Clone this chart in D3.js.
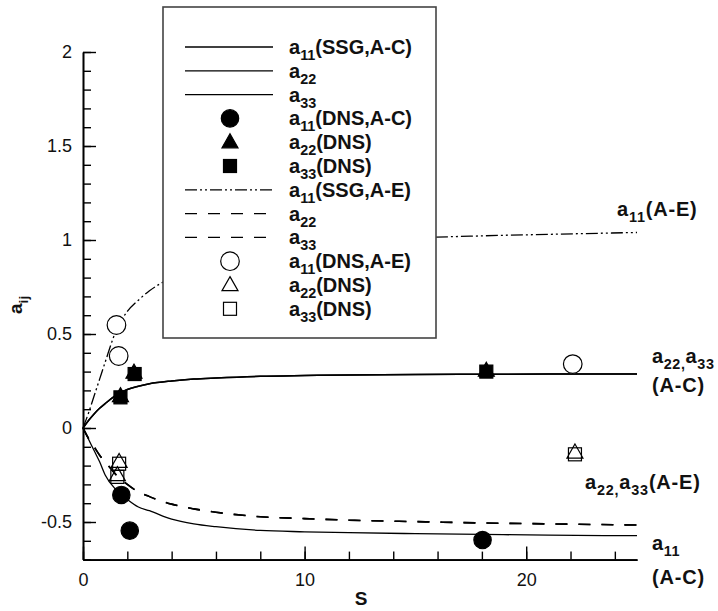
<!DOCTYPE html>
<html>
<head>
<meta charset="utf-8">
<script src="https://cdn.jsdelivr.net/npm/d3@7"></script>
<style>
html,body{margin:0;padding:0;background:#fff;}
svg{display:block;font-family:"Liberation Sans",Arial,Helvetica,sans-serif;}
</style>
</head>
<body>
<svg id="chart" width="718" height="611"></svg>
<script>
// ---------- data ----------
const sGrid = [0, 0.25, 0.5, 0.75, 1, 1.5, 2, 2.5, 3, 4, 5, 6, 8, 10, 12, 15, 18, 21, 25];
const a11_SSG_AC = [0, -0.06, -0.12, -0.18, -0.25, -0.33, -0.38, -0.42, -0.44, -0.485, -0.51, -0.525, -0.545, -0.552, -0.557, -0.562, -0.566, -0.57, -0.573];
const a22_SSG_AC = [0, 0.04, 0.075, 0.105, 0.13, 0.175, 0.205, 0.222, 0.235, 0.25, 0.26, 0.266, 0.275, 0.279, 0.282, 0.285, 0.286, 0.287, 0.287];
const a33_SSG_AC = [0, 0.04, 0.075, 0.105, 0.13, 0.175, 0.205, 0.222, 0.235, 0.25, 0.26, 0.266, 0.275, 0.279, 0.282, 0.285, 0.286, 0.287, 0.287];
const a11_SSG_AE = [0, 0.08, 0.17, 0.26, 0.35, 0.52, 0.62, 0.68, 0.73, 0.8, 0.85, 0.88, 0.93, 0.96, 0.985, 1.01, 1.022, 1.03, 1.04];
const a22_SSG_AE = [0, -0.055, -0.1, -0.145, -0.18, -0.25, -0.3, -0.34, -0.365, -0.405, -0.43, -0.448, -0.472, -0.482, -0.49, -0.498, -0.505, -0.51, -0.516];
const a33_SSG_AE = [0, -0.055, -0.1, -0.145, -0.18, -0.25, -0.3, -0.34, -0.365, -0.405, -0.43, -0.448, -0.472, -0.482, -0.49, -0.498, -0.505, -0.51, -0.516];

const a11_DNS_AC = [[1.73, -0.356], [2.11, -0.546], [18.03, -0.596]];
const a22_DNS_AC = [[1.69, 0.17], [2.3, 0.295], [18.2, 0.305]];
const a33_DNS_AC = [[1.69, 0.163], [2.33, 0.287], [18.2, 0.30]];
const a11_DNS_AE = [[1.51, 0.548], [1.61, 0.383], [22.1, 0.34]];
const a22_DNS_AE = [[1.63, -0.18], [1.55, -0.25], [22.2, -0.13]];
const a33_DNS_AE = [[1.63, -0.19], [1.55, -0.26], [22.2, -0.14]];

const yMajorTicks = [-0.5, 0, 0.5, 1, 1.5, 2];
const xMajorTicks = [0, 10, 20];
const yMinorTicks = d3.range(-7, 21).map(d => d / 10);
const xMinorTicks = d3.range(0, 25, 2);

// ---------- setup ----------
const svg = d3.select("#chart");
const x = d3.scaleLinear().domain([0, 25]).range([83, 637]);
const y = d3.scaleLinear().domain([-0.7, 2]).range([559.6, 52]);

const line = d3.line().x(d => x(d[0])).y(d => y(d[1])).curve(d3.curveMonotoneX);
const zipS = vals => sGrid.map((s, i) => [s, vals[i]]);

const DASHDOT = "12,3,2,3,2,3";
const DASHED = "12,11";

// ---------- curves ----------
const curves = [
  {v: a11_SSG_AC, dash: null, w: 1.3},
  {v: a22_SSG_AC, dash: null, w: 1.5},
  {v: a33_SSG_AC, dash: null, w: 1.5},
  {v: a11_SSG_AE, dash: DASHDOT, w: 1.3},
  {v: a22_SSG_AE, dash: DASHED, w: 1.6},
  {v: a33_SSG_AE, dash: DASHED, w: 1.6}
];
svg.append("g").selectAll("path").data(curves).join("path")
  .attr("d", d => line(zipS(d.v)))
  .attr("fill", "none").attr("stroke", "#000")
  .attr("stroke-width", d => d.w)
  .attr("stroke-dasharray", d => d.dash);

// ---------- markers ----------
function marker(g, type, cx, cy) {
  if (type === "circleF" || type === "circleO") {
    g.append("circle").attr("cx", cx).attr("cy", cy).attr("r", type === "circleF" ? 8.7 : 9.3)
      .attr("fill", type === "circleF" ? "#000" : "#fff").attr("stroke", "#000").attr("stroke-width", 1.2);
  } else if (type === "triF" || type === "triO") {
    const h = 14, w = 16;
    g.append("path").attr("d", `M${cx},${cy - h * 0.6}L${cx + w / 2},${cy + h * 0.4}L${cx - w / 2},${cy + h * 0.4}Z`)
      .attr("fill", type === "triF" ? "#000" : "none").attr("stroke", "#000").attr("stroke-width", 1.2);
  } else {
    const s = 13;
    g.append("rect").attr("x", cx - s / 2).attr("y", cy - s / 2).attr("width", s).attr("height", s)
      .attr("fill", type === "sqF" ? "#000" : "none").attr("stroke", "#000").attr("stroke-width", 1.2);
  }
}
const markerSets = [
  {pts: a22_DNS_AC, t: "triF"},
  {pts: a33_DNS_AC, t: "sqF"},
  {pts: a11_DNS_AC, t: "circleF"},
  {pts: a11_DNS_AE, t: "circleO"},
  {pts: a22_DNS_AE, t: "triO"},
  {pts: a33_DNS_AE, t: "sqO"}
];
const mg = svg.append("g");
markerSets.forEach(ms => ms.pts.forEach(p => marker(mg, ms.t, x(p[0]), y(p[1]))));

// ---------- axes ----------
const fmt = d => String(d);
const axY = svg.append("g").attr("transform", `translate(${x(0)},0)`)
  .call(d3.axisLeft(y).tickValues(yMajorTicks).tickFormat(fmt).tickSize(-13).tickSizeOuter(0).tickPadding(11));
const axYm = svg.append("g").attr("transform", `translate(${x(0)},0)`)
  .call(d3.axisLeft(y).tickValues(yMinorTicks).tickFormat("").tickSize(-8).tickSizeOuter(0));
const axX = svg.append("g").attr("transform", `translate(0,${y(-0.7)})`)
  .call(d3.axisBottom(x).tickValues(xMajorTicks).tickFormat(fmt).tickSize(-13).tickSizeOuter(0).tickPadding(14));
const axXm = svg.append("g").attr("transform", `translate(0,${y(-0.7)})`)
  .call(d3.axisBottom(x).tickValues(xMinorTicks).tickFormat("").tickSize(-8).tickSizeOuter(0));
[axY, axYm, axX, axXm].forEach(a => {
  a.selectAll("path").attr("stroke", "#000").attr("stroke-width", 1.6);
  a.selectAll("line").attr("stroke", "#000").attr("stroke-width", 1.4);
  a.selectAll("text").attr("fill", "#111").attr("font-size", 18)
    .attr("font-family", "'Liberation Sans',Arial,Helvetica,sans-serif");
});

// ---------- rich text helper ----------
function rich(g, tx, ty, parts, size, spacing) {
  const t = g.append("text").attr("x", tx).attr("y", ty)
    .attr("font-size", size).attr("font-weight", "bold").attr("fill", "#111")
    .attr("letter-spacing", spacing || 0);
  let shifted = false;
  parts.forEach(p => {
    const isSub = p[1];
    const ts = t.append("tspan").text(p[0]);
    if (isSub && !shifted) { ts.attr("dy", size * 0.3).attr("font-size", size * 0.72); shifted = true; }
    else if (isSub) { ts.attr("font-size", size * 0.72); }
    else if (!isSub && shifted) { ts.attr("dy", -size * 0.3); shifted = false; }
  });
  return t;
}

// ---------- axis titles ----------
svg.append("text").attr("x", 361).attr("y", 605).attr("text-anchor", "middle")
  .attr("font-size", 19).attr("font-weight", "bold").attr("fill", "#111").text("S");
const yt = svg.append("g").attr("transform", "translate(22,314) rotate(-90)");
rich(yt, 0, 0, [["a", false], ["ij", true]], 19);

// ---------- legend ----------
const legendLabels = [
  [["a", false], ["11", true], ["(SSG,A-C)", false]],
  [["a", false], ["22", true]],
  [["a", false], ["33", true]],
  [["a", false], ["11", true], ["(DNS,A-C)", false]],
  [["a", false], ["22", true], ["(DNS)", false]],
  [["a", false], ["33", true], ["(DNS)", false]],
  [["a", false], ["11", true], ["(SSG,A-E)", false]],
  [["a", false], ["22", true]],
  [["a", false], ["33", true]],
  [["a", false], ["11", true], ["(DNS,A-E)", false]],
  [["a", false], ["22", true], ["(DNS)", false]],
  [["a", false], ["33", true], ["(DNS)", false]]
];
const legendKinds = ["solid", "solid", "solid", "circleF", "triF", "sqF", "dashdot", "dashed", "dashed", "circleO", "triO", "sqO"];

const lg = svg.append("g");
lg.append("rect").attr("x", 163).attr("y", 7).attr("width", 273).attr("height", 331)
  .attr("fill", "#fff").attr("stroke", "#444").attr("stroke-width", 1.6);
legendKinds.forEach((k, i) => {
  const ry = 47 + i * 23.8;
  if (k === "solid" || k === "dashdot" || k === "dashed") {
    lg.append("line").attr("x1", 185).attr("x2", 273).attr("y1", ry).attr("y2", ry)
      .attr("stroke", "#000").attr("stroke-width", 1.3)
      .attr("stroke-dasharray", k === "dashdot" ? DASHDOT : k === "dashed" ? DASHED : null);
  } else {
    marker(lg, k, 230, ry);
  }
  rich(lg, 289, ry + 7, legendLabels[i], 20);
});

// ---------- curve labels ----------
const cl = svg.append("g");
rich(cl, 617, 216, [["a", false], ["11", true], ["(A-E)", false]], 20, 0.8);
rich(cl, 652, 363, [["a", false], ["22,", true], ["a", false], ["33", true]], 20, 0.6);
rich(cl, 652, 392, [["(A-C)", false]], 20, 0.8);
rich(cl, 585, 489, [["a", false], ["22,", true], ["a", false], ["33", true], ["(A-E)", false]], 20, 0.8);
rich(cl, 652, 550, [["a", false], ["11", true]], 20, 0.6);
rich(cl, 652, 584, [["(A-C)", false]], 20, 0.8);
</script>
</body>
</html>
